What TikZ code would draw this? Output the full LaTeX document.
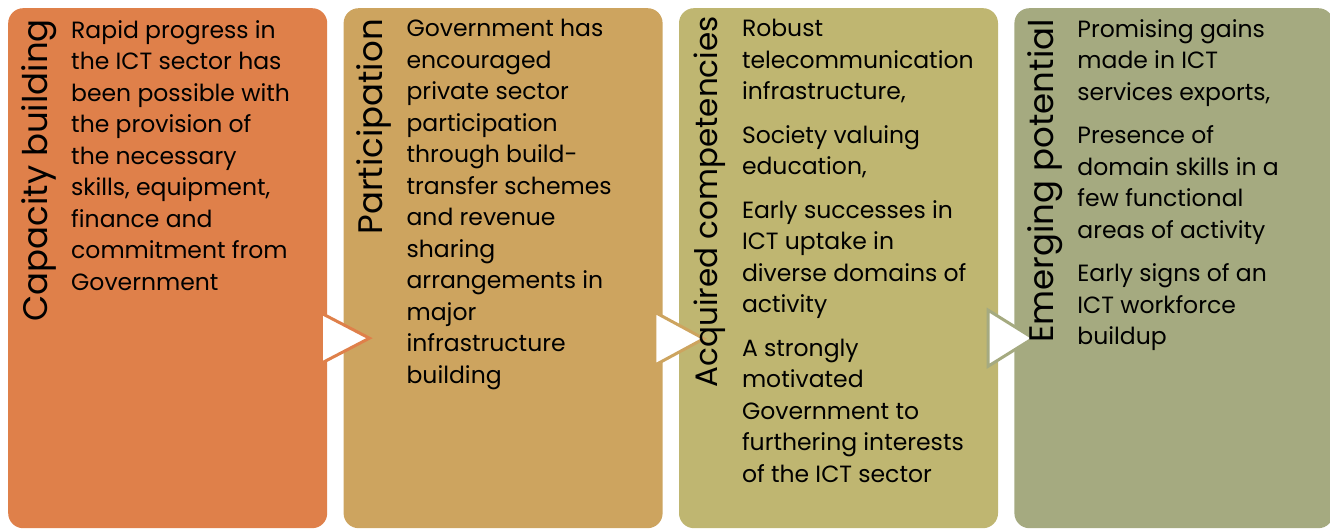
\documentclass[tikz,border=0pt]{standalone}
\usepackage{fontspec}
\setmainfont{Poppins}
\usepackage{xcolor}
\usepackage{tikz}
\usetikzlibrary{positioning, calc}

\definecolor{capcol}{RGB}{223,128,74}
\definecolor{parcol}{RGB}{205,164,95}
\definecolor{acqcol}{RGB}{191,182,113}
\definecolor{potcol}{RGB}{165,170,128}

\begin{document}
\begin{tikzpicture}[x=1pt, y=-1pt]
        \tikzstyle{panel} = [rectangle, rounded corners=15pt, minimum width=319pt, minimum height=520pt, inner sep=0pt, anchor=north west]
        \tikzstyle{heading} = [rotate=90, anchor=north east, inner sep=0pt, font=\fontsize{34}{40}\selectfont]
        \tikzstyle{body} = [anchor=north west, inner sep=0pt, align=left, font=\fontsize{23.5}{31.5}\selectfont]
        \tikzstyle{chevron} = [fill=white, line width=3pt]

        \useasboundingbox (0,0) rectangle (1330,529);

        \node (cap) [panel, fill=capcol] at (8,8) {};
        \node (par) [panel, fill=parcol, right=16pt of cap] {};
        \node (acq) [panel, fill=acqcol, right=16pt of par] {};
        \node (pot) [panel, fill=potcol, right=16pt of acq] {};

        \draw [chevron, draw=capcol] ($(cap.east)+(-6,45)$) -- ++(0,50) -- ++(48,-25) -- cycle;
        \draw [chevron, draw=parcol] ($(par.east)+(-8,44)$) -- ++(0,53) -- ++(49,-26.5) -- cycle;
        \draw [chevron, draw=potcol] ($(acq.east)+(-10,42)$) -- ++(0,56) -- ++(45,-28) -- cycle;

        \node (cap_t) [heading] at ($(cap.north west)+(13,11)$) {Capacity building};
        \node (par_t) [heading] at ($(par.north west)+(13,11)$) {Participation};
        \node (acq_t) [heading, font=\fontsize{31}{37}\selectfont] at ($(acq.north west)+(15,8)$) {Acquired competencies};
        \node (pot_t) [heading] at ($(pot.north west)+(13,11)$) {Emerging potential};

        \node (cap_b) [body] at ($(cap.north west)+(63,12)$) {Rapid progress in\\the ICT sector has\\been possible with\\the provision of\\the necessary\\skills, equipment,\\finance and\\commitment from\\Government};
        \node (par_b) [body] at ($(par.north west)+(63,11)$) {Government has\\encouraged\\private sector\\participation\\through build-\\transfer schemes\\and revenue\\sharing\\arrangements in\\major\\infrastructure\\building};
        \node (acq_b) [body] at ($(acq.north west)+(63,11)$) {Robust\\telecommunication\\infrastructure,\\[12pt]Society valuing\\education,\\[12pt]Early successes in\\ICT uptake in\\diverse domains of\\activity\\[12pt]A strongly\\motivated\\Government to\\furthering interests\\of the ICT sector};
        \node (pot_b) [body] at ($(pot.north west)+(63,11)$) {Promising gains\\made in ICT\\services exports,\\[12pt]Presence of\\domain skills in a\\few functional\\areas of activity\\[12pt]Early signs of an\\ICT workforce\\buildup};
    \end{tikzpicture}
\end{document}
